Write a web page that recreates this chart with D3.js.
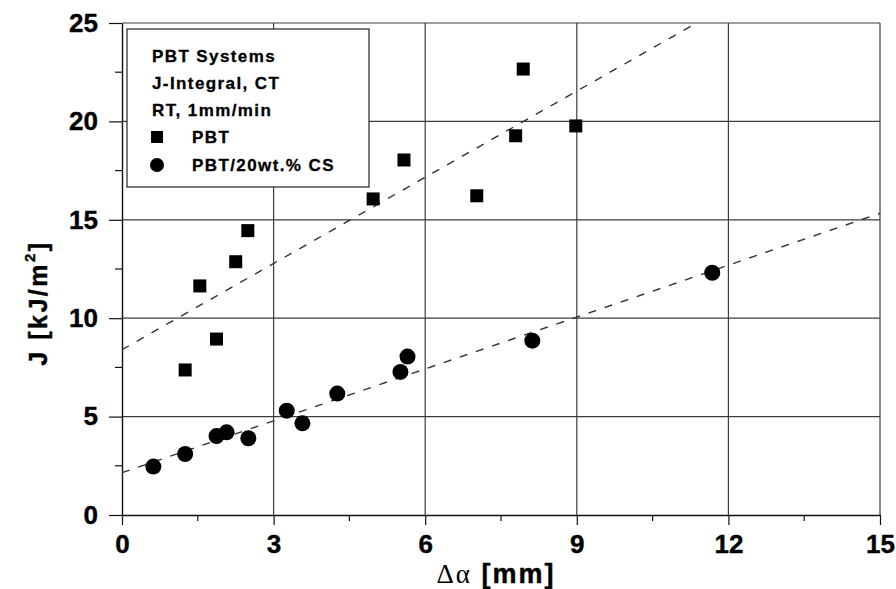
<!DOCTYPE html>
<html>
<head>
<meta charset="utf-8">
<script src="https://cdn.jsdelivr.net/npm/d3@7"></script>
<style>
  body { margin: 0; background: #fff; }
  svg { display: block; }
  text { font-family: "Liberation Sans", Arial, sans-serif; font-weight: bold; fill: #000; }
</style>
</head>
<body>
<div id="chart"></div>
<script>
// data
var pbtX = [1.25, 1.54, 1.87, 2.25, 2.49, 4.97, 5.58, 7.02, 7.79, 7.94, 8.98];
var pbtY = [7.37, 11.64, 8.94, 12.87, 14.45, 16.06, 18.04, 16.22, 19.27, 22.66, 19.77];

var csX = [0.62, 1.25, 1.87, 2.07, 2.50, 3.26, 3.57, 4.26, 5.51, 5.65, 8.12, 11.68];
var csY = [2.46, 3.10, 4.01, 4.20, 3.90, 5.30, 4.66, 6.17, 7.27, 8.05, 8.86, 12.31];

// dashed fit lines (end points)
var fitPbtX = [0, 11.37];
var fitPbtY = [8.4, 25];
var fitCsX = [0, 15];
var fitCsY = [2.15, 15.33];

var xTicks = [0, 3, 6, 9, 12, 15];
var yTicks = [0, 5, 10, 15, 20, 25];
var xMinor = [1.5, 4.5, 7.5, 10.5, 13.5];
var yMinor = [2.5, 7.5, 12.5, 17.5, 22.5];

var legendLines = ["PBT Systems", "J-Integral, CT", "RT, 1mm/min"];
var seriesNames = ["PBT", "PBT/20wt.% CS"];

var svgWidth = 896, svgHeight = 589;
var margin = {top: 23, right: 16, bottom: 74, left: 122};
var chartWidth = svgWidth - margin.left - margin.right;
var chartHeight = svgHeight - margin.top - margin.bottom;

var svg = d3.select('#chart').append('svg')
    .attr('width', svgWidth)
    .attr('height', svgHeight);

var g = svg.append('g')
    .attr('transform', `translate(${margin.left}, ${margin.top})`);

var x = d3.scaleLinear().domain([0, 15]).range([0, chartWidth]);
var y = d3.scaleLinear().domain([0, 25]).range([chartHeight, 0]);

//grid lines
var gridColor = '#3c3c3c';
g.selectAll('.vgrid').data(xTicks.slice(1)).enter().append('line')
    .attr('x1', d => x(d)).attr('x2', d => x(d))
    .attr('y1', 0).attr('y2', chartHeight)
    .attr('stroke', gridColor).attr('stroke-width', 1.2);
g.selectAll('.hgrid').data(yTicks.slice(1)).enter().append('line')
    .attr('x1', 0).attr('x2', chartWidth)
    .attr('y1', d => y(d)).attr('y2', d => y(d))
    .attr('stroke', gridColor).attr('stroke-width', 1.2);

//axes
var xAxis = d3.axisBottom(x).tickValues(xTicks).tickSize(10).tickSizeOuter(0).tickPadding(10);
var yAxis = d3.axisLeft(y).tickValues(yTicks).tickSize(13).tickSizeOuter(0).tickPadding(11);

var gx = g.append('g').attr('transform', `translate(0, ${chartHeight})`).call(xAxis);
var gy = g.append('g').call(yAxis);
[gx, gy].forEach(function(a) {
    a.selectAll('text')
        .style('font-size', '26px')
        .style('font-family', '"Liberation Sans", Arial, sans-serif')
        .style('font-weight', 'bold')
        .attr('stroke', '#000').attr('stroke-width', 0.4);
    a.selectAll('line').attr('stroke', '#111').attr('stroke-width', 1.2);
    a.select('.domain').attr('stroke', '#111').attr('stroke-width', 1.4);
});

//minor ticks
gx.selectAll('.minor').data(xMinor).enter().append('line')
    .attr('x1', d => x(d)).attr('x2', d => x(d))
    .attr('y1', 0).attr('y2', 6)
    .attr('stroke', '#111').attr('stroke-width', 1.2);
gy.selectAll('.minor').data(yMinor).enter().append('line')
    .attr('y1', d => y(d)).attr('y2', d => y(d))
    .attr('x1', 0).attr('x2', -7)
    .attr('stroke', '#111').attr('stroke-width', 1.2);

//fit lines
var line = d3.line().x(d => x(d[0])).y(d => y(d[1]));
[[fitPbtX, fitPbtY], [fitCsX, fitCsY]].forEach(function(f) {
    g.append('path')
        .datum(f[0].map((v, i) => [v, f[1][i]]))
        .attr('d', line)
        .attr('fill', 'none')
        .attr('stroke', '#333')
        .attr('stroke-width', 1.4)
        .attr('stroke-dasharray', '8,9');
});

//points
var sq = 13;
g.selectAll('.pbt').data(pbtX).enter().append('rect')
    .attr('x', (d, i) => x(d) - sq / 2)
    .attr('y', (d, i) => y(pbtY[i]) - sq / 2)
    .attr('width', sq).attr('height', sq)
    .attr('fill', '#000');

g.selectAll('.cs').data(csX).enter().append('circle')
    .attr('cx', d => x(d))
    .attr('cy', (d, i) => y(csY[i]))
    .attr('r', 8)
    .attr('fill', '#000');

//legend box
var leg = svg.append('g').attr('transform', 'translate(127, 29)');
leg.append('rect')
    .attr('width', 242).attr('height', 158)
    .attr('fill', '#fff').attr('stroke', '#222').attr('stroke-width', 1.2);

leg.selectAll('.hdr').data(legendLines).enter().append('text')
    .attr('x', 25)
    .attr('y', (d, i) => 33 + i * 27)
    .style('font-size', '17px')
    .style('letter-spacing', '1.4px')
    .attr('stroke', '#000').attr('stroke-width', 0.3)
    .text(d => d);

leg.append('rect').attr('x', 24).attr('y', 102).attr('width', 12).attr('height', 12).attr('fill', '#000');
leg.append('circle').attr('cx', 30).attr('cy', 136).attr('r', 7).attr('fill', '#000');
leg.selectAll('.sname').data(seriesNames).enter().append('text')
    .attr('x', 65)
    .attr('y', (d, i) => 114 + i * 28)
    .style('font-size', '17px')
    .style('letter-spacing', '1.4px')
    .attr('stroke', '#000').attr('stroke-width', 0.3)
    .text(d => d);

//axis titles
var xt = svg.append('text')
    .attr('x', 496).attr('y', 583)
    .attr('text-anchor', 'middle')
    .style('font-size', '27px')
    .style('letter-spacing', '2px');
xt.append('tspan').style('font-family', '"Liberation Serif", serif').style('font-weight', 'normal').text('\u0394\u03b1');
xt.append('tspan').attr('stroke', '#000').attr('stroke-width', 0.4).text(' [mm]');

var yt = svg.append('text')
    .attr('transform', 'translate(47, 303) rotate(-90)')
    .attr('text-anchor', 'middle')
    .style('font-size', '25px')
    .style('letter-spacing', '2.5px')
    .attr('stroke', '#000').attr('stroke-width', 0.4);
yt.append('tspan').text('J [kJ/m');
yt.append('tspan').attr('dy', -12).style('font-size', '15px').text('2');
yt.append('tspan').attr('dy', 12).text(']');
</script>
</body>
</html>
